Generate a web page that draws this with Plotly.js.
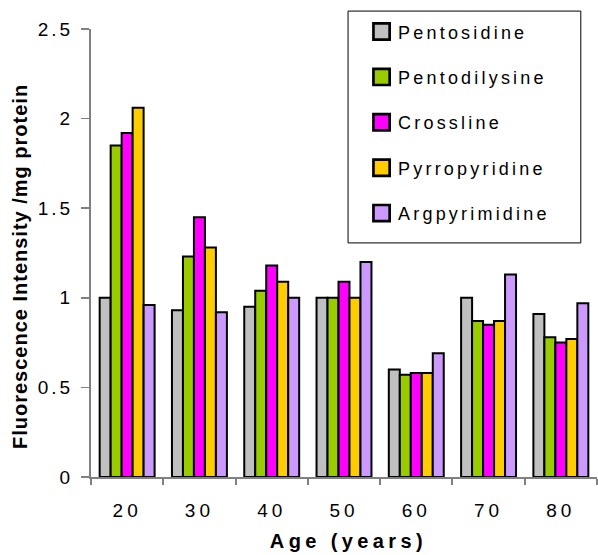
<!DOCTYPE html>
<html>
<head>
<meta charset="utf-8">
<script src="https://cdn.plot.ly/plotly-3.0.1.min.js"></script>
<style>
  html, body { margin: 0; padding: 0; background: #fff; }
  #chart { width: 598px; height: 555px; }
  text.legendtext { letter-spacing: 3.2px; }
  g.legendpoints path { transform: translate(33.5px, 0px) scale(1.35); }
  g.xtick text { letter-spacing: 4px; }
  g.ytick text { letter-spacing: 3px; }
  g.annotation[data-index="0"] text { letter-spacing: 4.4px; }
  g.annotation[data-index="1"] text { letter-spacing: 1px; }
</style>
</head>
<body>
<div id="chart"></div>
<script>
const ages = ['20', '30', '40', '50', '60', '70', '80'];
const seriesNames = ['Pentosidine', 'Pentodilysine', 'Crossline', 'Pyrropyridine', 'Argpyrimidine'];
const pentosidine   = [1.00, 0.93, 0.95, 1.00, 0.60, 1.00, 0.91];
const pentodilysine = [1.85, 1.23, 1.04, 1.00, 0.57, 0.87, 0.78];
const crossline     = [1.92, 1.45, 1.18, 1.09, 0.58, 0.85, 0.75];
const pyrropyridine = [2.06, 1.28, 1.09, 1.00, 0.58, 0.87, 0.77];
const argpyrimidine = [0.96, 0.92, 1.00, 1.20, 0.69, 1.13, 0.97];
const seriesValues = [pentosidine, pentodilysine, crossline, pyrropyridine, argpyrimidine];
const colors = ['#C0C0C0', '#99CC00', '#FF00FF', '#FFCC00', '#CC99FF'];
const xTitle = 'Age (years)';
const yTitle = 'Fluorescence Intensity /mg protein';

const fontFam = 'Arial, "Liberation Sans", sans-serif';

const traces = seriesNames.map((name, i) => ({
  type: 'bar',
  name: name,
  x: ages,
  y: seriesValues[i],
  legendgroup: 'g' + i,
  marker: { color: colors[i], line: { color: '#000000', width: 2 } }
}));

const layout = {
  width: 598,
  height: 555,
  margin: { l: 91, r: 1, t: 29, b: 78, pad: 0 },
  paper_bgcolor: '#ffffff',
  plot_bgcolor: '#ffffff',
  barmode: 'group',
  bargap: 0.24,
  bargroupgap: 0,
  font: { family: fontFam, color: '#000000', size: 16 },
  xaxis: {
    type: 'category',
    showline: true, linecolor: '#808080', linewidth: 2,
    ticks: 'outside', tickson: 'boundaries', ticklen: 6, tickcolor: '#808080', tickwidth: 2,
    tickfont: { size: 19, family: fontFam },
    ticklabelstandoff: 15,
    showgrid: false, zeroline: false,
    automargin: false
  },
  yaxis: {
    range: [0, 2.5], dtick: 0.5, tick0: 0,
    showline: true, linecolor: '#808080', linewidth: 2,
    ticks: 'outside', ticklen: 8, tickcolor: '#808080', tickwidth: 1.5,
    tickfont: { size: 19, family: fontFam },
    ticklabelstandoff: 4,
    showgrid: false, zeroline: false,
    automargin: false
  },
  annotations: [
    { text: xTitle, xref: 'paper', yref: 'paper', x: 0.508, y: -0.143,
      xanchor: 'center', yanchor: 'middle', showarrow: false,
      font: { size: 20, family: fontFam, weight: 'bold', color: '#000' } },
    { text: yTitle, xref: 'paper', yref: 'paper', x: -0.14, y: 0.469,
      xanchor: 'center', yanchor: 'middle', showarrow: false, textangle: -90,
      font: { size: 20, family: fontFam, weight: 'bold', color: '#000' } }
  ],
  shapes: [
    { type: 'rect', xref: 'paper', yref: 'paper', x0: 0.508, x1: 0.968, y0: 0.5225, y1: 1.040,
      line: { color: '#000000', width: 1 }, fillcolor: '#ffffff', layer: 'above' }
  ],
  showlegend: true,
  legend: {
    x: 0.508, y: 1.035, xanchor: 'left', yanchor: 'top',
    bgcolor: 'rgba(0,0,0,0)', borderwidth: 0,
    font: { size: 18, family: fontFam },
    traceorder: 'grouped', tracegroupgap: 19,
    itemwidth: 40
  }
};

Plotly.newPlot('chart', traces, layout, { displayModeBar: false, staticPlot: true });
</script>
</body>
</html>
